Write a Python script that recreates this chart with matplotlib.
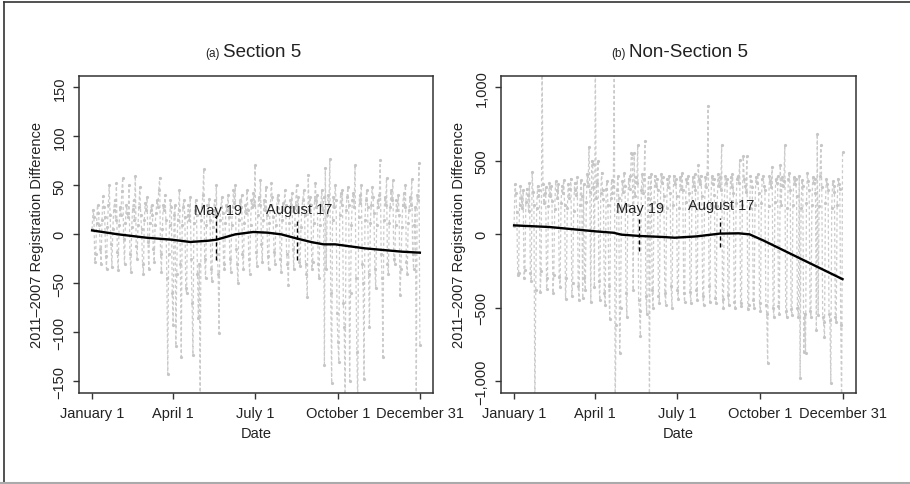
import matplotlib.pyplot as plt
from matplotlib.lines import Line2D
import numpy as np

plt.rcParams['font.family'] = ['Liberation Sans', 'DejaVu Sans']

days = np.arange(1, 366)

# daily 2011-2007 differences, Section 5 jurisdictions (one row per week)
sec5 = [
    5, 25, 18, -28, -20, 12, 30,
    22, 10, -15, -30, 15, 39, 28,
    18, -22, -35, 8, 30, 50, 20,
    -10, -33, 5, 25, 35, 15, 52,
    -18, -36, 10, 28, 20, 44, 58,
    -5, -30, 12, 30, 22, 18, 50,
    -20, -38, 8, 26, 35, 15, 60,
    -12, -25, 10, 28, 48, 20, 5,
    -30, -40, 15, 32, 25, 38, -8,
    -35, 12, 25, 30, 20, -15, -28,
    10, 22, 35, 28, 45, 58, -20,
    -38, 5, 30, 25, 40, 15, -45,
    -143, -20, 10, 35, 28, -60, -93,
    20, 30, -114, -40, 15, 25, 45,
    -30, -125, 10, 28, 35, 18, -55,
    -60, 20, 30, 15, 38, -25, -70,
    -123, 12, 25, 35, 20, -40, -85,
    -30, -170, 15, 28, 40, 67, -25,
    -45, 10, 30, 22, 36, 15, -35,
    -48, 8, 25, 35, 20, 50, -20,
    -40, -101, 15, 28, 38, 22, -30,
    -35, 12, 30, 25, 40, 18, -25,
    -38, 10, 28, 45, 32, 50, -15,
    -30, -50, 15, 35, 28, 40, -20,
    -35, 12, 30, 22, 45, 25, -25,
    -40, 10, 35, 28, 42, 30, 71,
    -18, -32, 20, 38, 30, 55, -10,
    -28, 15, 35, 25, 48, 20, -22,
    -35, 12, 30, 52, 38, 18, -18,
    -30, 10, 28, 40, 35, 22, -25,
    -38, 15, 32, 25, 45, 30, -20,
    -30, -52, 12, 35, 28, 42, -15,
    -35, 10, 30, 50, 25, 38, -28,
    -32, 8, 28, 35, 45, 20, -30,
    -40, -64, 61, 25, 38, 30, -35,
    -28, 12, 35, 52, 28, 40, -30,
    -45, 10, 30, 45, 25, 38, -133,
    68, -35, 20, 40, 30, 77, -60,
    -152, 15, 38, 28, 50, 35, -80,
    -110, -130, 20, 42, 30, 45, -70,
    -95, -175, 25, 38, 48, 30, -150,
    -60, 10, 35, 42, 28, 71, -45,
    -120, -170, 18, 40, 32, 50, -30,
    -50, -148, 15, 35, 45, 28, -40,
    -95, 12, 30, 48, 38, 22, -35,
    -55, 10, 35, 28, 40, 76, -20,
    -45, -125, 15, 38, 30, 58, -30,
    -40, 12, 28, 45, 35, 55, -25,
    -30, 10, 35, 25, 40, 20, -62,
    -35, 8, 30, 42, 28, 50, -28,
    -40, 12, 25, 38, 30, 56, -20,
    -35, 10, 28, -170, 40, 35, 73,
    -113,
]

# non-Section 5 jurisdictions
nonsec5 = [
    60, 340, 280, 150, -280, -260, 200,
    330, 250, 180, 300, -300, -240, 220,
    310, 270, 160, 350, -260, -320, 425,
    290, 200, -1200, -380, 180, 330, 260,
    300, -390, -250, 1200, 340, 210, 280,
    320, -370, -300, 190, 350, 260, 330,
    230, -400, -280, 170, 360, 300, 250,
    340, -290, -360, 210, 330, 280, 370,
    200, -440, -300, 180, 340, 250, 310,
    380, -420, -330, 160, 350, 300, 270,
    390, -350, -450, 200, 370, 260, -435,
    340, -300, -380, 220, 410, 330, 595,
    290, -460, 500, 480, 320, -360, 1200,
    250, 350, 502, -320, -450, 280, 420,
    300, 240, -400, -480, 310, 360, 200,
    -350, -573, 250, 370, 280, 330, 1200,
    -1200, -620, 300, 400, 250, -805, -500,
    180, 360, 290, 420, 330, -400, -560,
    200, 380, 310, 400, 554, 547, -380,
    554, 260, 390, 350, 607, -450, -520,
    -690, 300, 410, 280, 380, 636, -420,
    -540, 250, 390, -1200, 320, 410, -380,
    -500, 220, 400, 330, 380, 300, -420,
    -470, 200, 410, 350, 390, 260, -400,
    -480, 180, 380, 320, 400, 280, -350,
    -500, 200, 400, 340, 380, 260, -380,
    -440, 180, 390, 310, 420, 300, -400,
    -460, 220, 380, 350, 400, 280, -390,
    -470, 200, 390, 330, 410, 300, -380,
    -450, 470, 380, 340, 400, 260, -420,
    -480, 180, 390, 320, 410, 875, -350,
    -460, 200, 400, 340, 380, 270, -430,
    -470, 190, 410, 330, 390, 300, 607,
    -440, -500, 220, 400, 350, 380, -410,
    -480, 200, 390, 320, 410, 280, -460,
    -500, 210, 380, 400, 350, 505, -470,
    -490, 200, 530, 380, 330, 290, 530,
    -510, -480, 180, 400, 360, 320, -450,
    -500, 200, 390, 350, 410, 280, -470,
    -520, 210, 380, 400, 330, 300, -480,
    -540, -875, 190, 400, 360, 320, 460,
    -500, -560, 220, 380, 350, 400, -490,
    -540, 470, 200, 390, 330, 360, 607,
    -520, -560, 180, 380, 420, 300, -510,
    -550, 200, 390, 340, 380, 260, -500,
    -560, 400, -976, 180, 370, 330, -800,
    -540, -806, 210, 420, 360, 300, -520,
    -560, 200, 390, 350, 380, 280, -648,
    682, -550, 190, 400, 607, 320, -560,
    -600, -700, 210, 380, 340, 300, -540,
    -580, -1010, 180, 360, 330, 290, -560,
    -600, 200, 380, 340, 310, -620, -1200,
    561,
]

# smoothed trend lines
smooth_days_a = [1, 30, 61, 90, 110, 130, 139, 160, 180, 196, 211, 229, 245, 258, 271, 304, 345, 365]
smooth_a = [4, 0, -3.4, -5.5, -7.8, -6.5, -5.5, 0, 2.4, 1.7, 0, -4.4, -8, -10.2, -10.2, -14.3, -17.7, -18.7]
smooth_days_b = [1, 40, 92, 111, 120, 140, 166, 179, 203, 229, 250, 262, 277, 365]
smooth_b = [61, 50, 20, 11, -2, -11, -18, -23, -14, 5, 7, 0, -41, -305]

tick_days = [1, 91, 182, 274, 365]
tick_labels = ['January 1', 'April 1', 'July 1', 'October 1', 'December 31']

yticks_a = [-150, -100, -50, 0, 50, 100, 150]
ylabels_a = ['\u2212150', '\u2212100', '\u221250', '0', '50', '100', '150']
yticks_b = [-1000, -500, 0, 500, 1000]
ylabels_b = ['\u22121,000', '\u2212500', '0', '500', '1,000']

event_days = [139, 229]
event_names = ['May 19', 'August 17']
event_span_a = [(-26, 20), (-26, 15)]
event_span_b = [(-114, 102), (-89, 114)]
event_text_y_a = [21, 22]
event_text_y_b = [152, 170]


def panel(ax, vals, sdays, svals, yticks, ylabels, ylim, spans, text_y, tag, name, tag_x):
    ax.plot(days, vals, color='#cbcbcb', lw=0.9, ls=(0, (2.5, 2)),
            marker='o', ms=2.3, mec='none', mfc='#c6c6c6', zorder=1)
    ax.plot(sdays, svals, color='black', lw=1.7, zorder=3)
    for d, (lo, hi), ty, nm in zip(event_days, spans, text_y, event_names):
        ax.plot([d, d], [lo, hi], color='black', lw=1, ls=(0, (3, 2)), zorder=4)
        ax.text(d + 1.5, ty, nm, ha='center', va='baseline', fontsize=10.5, color='#222222')

    ax.set_xlim(1 - 14.56, 365 + 14.56)
    ax.set_ylim(-ylim, ylim)
    ax.set_xticks(tick_days)
    ax.set_xticklabels(tick_labels)
    ax.set_yticks(yticks)
    ax.set_yticklabels(ylabels, rotation=90, va='center')
    ax.tick_params(length=4, width=1, color='#333333', labelsize=10.5,
                   labelcolor='#222222', pad=5)
    for s in ax.spines.values():
        s.set_color('#333333')
        s.set_linewidth(1.1)
    ax.set_xlabel('Date', fontsize=10.5, color='#222222', labelpad=5)
    ax.set_ylabel('2011\u20132007 Registration Difference', fontsize=10.5,
                  color='#222222', labelpad=6)

    ax.text(tag_x, 1.063, tag, transform=ax.transAxes, ha='right', va='baseline',
            fontsize=8.5, color='#222222')
    ax.text(tag_x + 0.01, 1.063, name, transform=ax.transAxes, ha='left', va='baseline',
            fontsize=13.5, color='#222222')


fig = plt.figure(figsize=(9.1, 4.85), dpi=100)
ax1 = fig.add_axes([0.0868, 0.1876, 0.389, 0.6543])
ax2 = fig.add_axes([0.5505, 0.1876, 0.3898, 0.6543])

panel(ax1, sec5, smooth_days_a, smooth_a, yticks_a, ylabels_a, 162,
      event_span_a, event_text_y_a, '(a)', 'Section 5', 0.398)
panel(ax2, nonsec5, smooth_days_b, smooth_b, yticks_b, ylabels_b, 1080,
      event_span_b, event_text_y_b, '(b)', 'Non-Section 5', 0.352)

# outer frame of the figure
fig.add_artist(Line2D([3.5 / 910, 3.5 / 910], [0, 1 - 3 / 485], transform=fig.transFigure,
                      color='#333333', lw=1.2))
fig.add_artist(Line2D([3.5 / 910, 1], [1 - 3 / 485, 1 - 3 / 485], transform=fig.transFigure,
                      color='#333333', lw=1.2))
fig.add_artist(Line2D([0, 1], [1.5 / 485, 1.5 / 485], transform=fig.transFigure,
                      color='#aaaaaa', lw=1.5))

fig.savefig('out.png', dpi=100)
